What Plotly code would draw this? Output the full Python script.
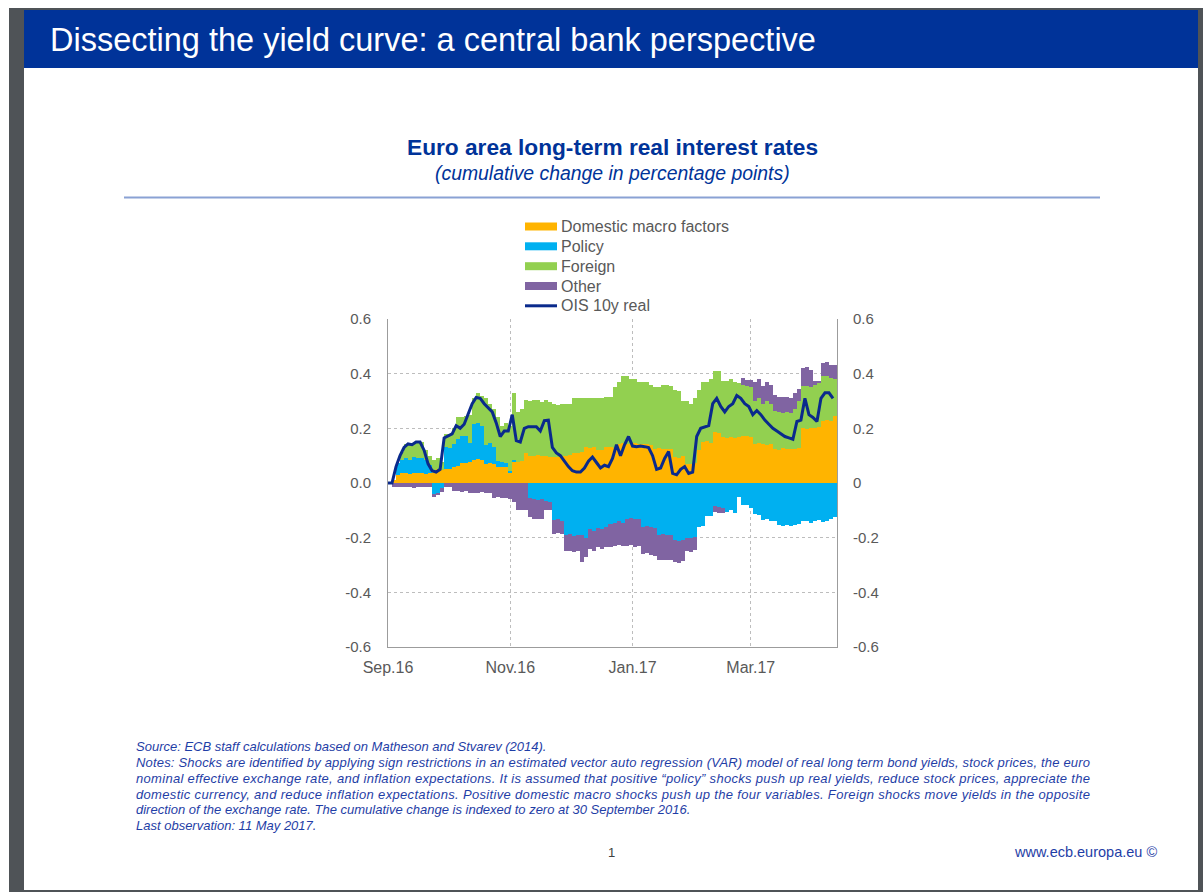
import plotly.graph_objects as go
import pandas as pd

# ---------------- data (every 2 calendar days from 30 Sep 2016 to 10 May 2017) ----------------
dates = pd.date_range("2016-09-30", periods=112, freq="2D")

domestic = [
    0, 0.01, 0.03, 0.035, 0.036, 0.034, 0.035, 0.037,
    0.035, 0.034, 0.036, 0.035, 0.05, 0.048, 0.052, 0.05,
    0.06, 0.062, 0.075, 0.072, 0.078, 0.085, 0.088, 0.083,
    0.07, 0.072, 0.068, 0.06, 0.058, 0.06, 0.035, 0.08,
    0.078, 0.082, 0.11, 0.1, 0.098, 0.102, 0.1, 0.097,
    0.095, 0.094, 0.096, 0.1, 0.1, 0.104, 0.11, 0.108,
    0.112, 0.13, 0.128, 0.13, 0.12, 0.122, 0.13, 0.132,
    0.128, 0.143, 0.145, 0.142, 0.143, 0.146, 0.141, 0.143,
    0.144, 0.14, 0.125, 0.127, 0.124, 0.126, 0.123, 0.095,
    0.093, 0.097, 0.07, 0.068, 0.072, 0.12, 0.15, 0.152,
    0.148, 0.185, 0.183, 0.167, 0.165, 0.169, 0.166, 0.17,
    0.172, 0.171, 0.168, 0.143, 0.145, 0.142, 0.14, 0.144,
    0.125, 0.122, 0.127, 0.124, 0.126, 0.123, 0.128, 0.2,
    0.198, 0.202, 0.2, 0.205, 0.228, 0.23, 0.226, 0.245,
]

policy = [
    0, 0, 0.045, 0.05, 0.055, 0.05, 0.06, 0.055,
    0.058, 0.05, 0.03, -0.04, -0.035, -0.02, 0.08, 0.078,
    0.082, 0.1, 0.098, 0.1, 0.07, 0.13, 0.13, 0.125,
    0.07, 0.075, 0.065, 0.02, 0.02, 0.015, 0.01, 0.005,
    0, 0, 0, -0.055, -0.06, -0.062, -0.06, -0.065,
    -0.07, -0.135, -0.13, -0.14, -0.19, -0.185, -0.195, -0.19,
    -0.19, -0.2, -0.17, -0.175, -0.165, -0.17, -0.16, -0.15,
    -0.145, -0.14, -0.148, -0.13, -0.128, -0.132, -0.13, -0.16,
    -0.158, -0.162, -0.165, -0.19, -0.188, -0.192, -0.19, -0.21,
    -0.212, -0.208, -0.2, -0.202, -0.198, -0.16, -0.158, -0.12,
    -0.12, -0.085, -0.088, -0.09, -0.105, -0.1, -0.108, -0.05,
    -0.08, -0.082, -0.09, -0.115, -0.118, -0.135, -0.132, -0.138,
    -0.14, -0.155, -0.158, -0.152, -0.156, -0.154, -0.15, -0.14,
    -0.138, -0.145, -0.14, -0.135, -0.142, -0.14, -0.13, -0.125,
]

foreign = [
    0, 0, 0, 0.03, 0.05, 0.055, 0.05, 0.06,
    0.057, 0.036, 0.034, 0.05, 0.04, 0.03, 0.048, 0.052,
    0.058, 0.078, 0.067, 0.073, 0.1, 0.095, 0.112, 0.112,
    0.17, 0.143, 0.137, 0.16, 0.132, 0.145, 0.165, 0.245,
    0.182, 0.188, 0.195, 0.2, 0.205, 0.2, 0.195, 0.205,
    0.2, 0.196, 0.19, 0.19, 0.19, 0.186, 0.2, 0.202,
    0.198, 0.18, 0.182, 0.18, 0.19, 0.188, 0.183, 0.181,
    0.222, 0.227, 0.245, 0.248, 0.237, 0.234, 0.229, 0.227,
    0.226, 0.22, 0.225, 0.223, 0.236, 0.234, 0.232, 0.245,
    0.242, 0.203, 0.23, 0.222, 0.238, 0.22, 0.22, 0.218,
    0.232, 0.225, 0.227, 0.208, 0.21, 0.211, 0.204, 0.195,
    0.188, 0.184, 0.182, 0.157, 0.165, 0.148, 0.16, 0.146,
    0.14, 0.138, 0.128, 0.136, 0.129, 0.147, 0.172, 0.155,
    0.157, 0.148, 0.16, 0.16, 0.162, 0.16, 0.159, 0.135,
]

other = [
    0, -0.015, -0.015, -0.016, -0.014, -0.015, -0.017, -0.015,
    -0.014, -0.015, -0.016, -0.01, -0.01, -0.012, -0.013, -0.013,
    -0.03, -0.028, -0.032, -0.03, -0.035, -0.035, -0.037, -0.034,
    -0.035, -0.036, -0.055, -0.053, -0.056, -0.055, -0.06, -0.07,
    -0.1, -0.1, -0.1, -0.07, -0.072, -0.068, -0.07, -0.035,
    -0.03, -0.05, -0.052, -0.048, -0.06, -0.062, -0.058, -0.06,
    -0.1, -0.07, -0.07, -0.072, -0.068, -0.07, -0.075, -0.085,
    -0.085, -0.088, -0.082, -0.1, -0.098, -0.102, -0.1, -0.1,
    -0.098, -0.1, -0.102, -0.09, -0.092, -0.088, -0.09, -0.08,
    -0.082, -0.078, -0.05, -0.052, -0.048, 0, 0, 0,
    0, -0.02, -0.02, -0.018, 0, 0, 0, 0,
    0.025, 0.022, 0.028, 0.07, 0.072, 0.066, 0.07, 0.068,
    0.058, 0.055, 0.06, 0.056, 0.055, 0.058, 0.045, 0.065,
    0.068, 0.062, 0.012, 0.01, 0.05, 0.052, 0.048, 0.05,
]

ois_10y_real = [
    0, 0, 0.06, 0.1, 0.13, 0.143, 0.14, 0.15,
    0.15, 0.12, 0.07, 0.045, 0.04, 0.05, 0.165, 0.173,
    0.18, 0.21, 0.2, 0.215, 0.25, 0.29, 0.313, 0.31,
    0.29, 0.276, 0.26, 0.22, 0.17, 0.19, 0.19, 0.25,
    0.155, 0.15, 0.2, 0.206, 0.206, 0.206, 0.19, 0.228,
    0.23, 0.13, 0.11, 0.1, 0.08, 0.06, 0.045, 0.04,
    0.04, 0.055, 0.08, 0.095, 0.075, 0.055, 0.065, 0.06,
    0.09, 0.14, 0.1, 0.14, 0.17, 0.135, 0.133, 0.135,
    0.133, 0.13, 0.1, 0.05, 0.055, 0.09, 0.115, 0.035,
    0.03, 0.05, 0.06, 0.035, 0.04, 0.17, 0.2, 0.205,
    0.21, 0.29, 0.31, 0.28, 0.26, 0.28, 0.29, 0.32,
    0.31, 0.29, 0.28, 0.25, 0.265, 0.25, 0.23, 0.215,
    0.2, 0.19, 0.18, 0.17, 0.165, 0.16, 0.225, 0.23,
    0.31, 0.25, 0.24, 0.225, 0.31, 0.33, 0.33, 0.31,
]

series_names = ["Domestic macro factors", "Policy", "Foreign", "Other"]
line_name = "OIS 10y real"
x_tick_dates = ["2016-09-30", "2016-11-30", "2017-01-30", "2017-03-30"]
x_tick_labels = ["Sep.16", "Nov.16", "Jan.17", "Mar.17"]
y_ticks = [-0.6, -0.4, -0.2, 0.0, 0.2, 0.4, 0.6]
y_labels_left = ["-0.6", "-0.4", "-0.2", "0.0", "0.2", "0.4", "0.6"]
y_labels_right = ["-0.6", "-0.4", "-0.2", "0", "0.2", "0.4", "0.6"]

# ---------------- styling ----------------
W, H = 1203, 892
PL, PR, PT, PB = 388, 837, 319, 647
FONT = "Liberation Sans, Arial, Helvetica, sans-serif"
ECB_BLUE = "#003399"
NOTE_BLUE = "#1f3ea6"
GREY_TXT = "#595959"
colors = ["#FFB400", "#00B0F0", "#92D050", "#8064A2"]
LINE_COL = "#0a2a8c"


def fx(x):
    return (x - PL) / (PR - PL)


def fy(y):
    return (PB - y) / (PB - PT)


fig = go.Figure()
DAY_MS = 86400000
for name, vals, col in zip(series_names, [domestic, policy, foreign, other], colors):
    fig.add_trace(go.Bar(x=dates, y=vals, name=name, marker=dict(color=col, line=dict(width=0)),
                         width=2 * DAY_MS, offset=0, showlegend=False))
fig.add_trace(go.Scatter(x=dates, y=ois_10y_real, name=line_name, mode="lines",
                         line=dict(color=LINE_COL, width=3), yaxis="y2", showlegend=False))

axis_common = dict(showgrid=True, gridcolor="#bdbdbd", griddash="dot", gridwidth=1,
                   showline=True, linecolor="#9c9c9c", linewidth=1, zeroline=False, ticks="")

fig.update_layout(
    width=W, height=H,
    margin=dict(l=PL, r=W - PR, t=PT, b=H - PB, pad=0),
    paper_bgcolor="white", plot_bgcolor="white",
    barmode="relative", bargap=0,
    font=dict(family=FONT),
    xaxis=dict(type="date", range=["2016-09-30", "2017-05-12"], tickvals=x_tick_dates,
               ticktext=x_tick_labels, ticklabelstandoff=6,
               tickfont=dict(family=FONT, size=16, color=GREY_TXT), **axis_common),
    yaxis=dict(range=[-0.6, 0.6], tickvals=y_ticks, ticktext=y_labels_left,
               ticklabelstandoff=13, tickfont=dict(family=FONT, size=15, color=GREY_TXT),
               **axis_common),
    yaxis2=dict(range=[-0.6, 0.6], tickvals=y_ticks, ticktext=y_labels_right, overlaying="y",
                side="right", showgrid=False, showline=True, linecolor="#9c9c9c", zeroline=False,
                ticks="", ticklabelstandoff=12, tickfont=dict(family=FONT, size=15, color=GREY_TXT)),
)

shapes = []
def rect(x0, y0, x1, y1, color):
    shapes.append(dict(type="rect", xref="paper", yref="paper", x0=fx(x0), x1=fx(x1),
                       y0=fy(y1), y1=fy(y0), fillcolor=color, line=dict(width=0), layer="above"))

# slide frame
rect(9, 8, 24, 892, "#4f5357")
rect(9, 8, 1203, 10, "#4f5357")
rect(1198, 8, 1203, 892, "#4f5357")
rect(9, 890, 1203, 892, "#4f5357")
rect(24, 10, 1198, 68, ECB_BLUE)
# rule under title
shapes.append(dict(type="line", xref="paper", yref="paper", x0=fx(124), x1=fx(1100),
                   y0=fy(197.5), y1=fy(197.5), line=dict(color="#8aa2d4", width=2)))
# legend swatches
leg_rows = [226.5, 246.3, 266.2, 286.0, 305.8]
for yy, col in zip(leg_rows[:4], colors):
    rect(525, yy - 4, 557, yy + 4, col)
shapes.append(dict(type="line", xref="paper", yref="paper", x0=fx(525), x1=fx(557),
                   y0=fy(leg_rows[4]), y1=fy(leg_rows[4]), line=dict(color=LINE_COL, width=3)))

annotations = []
def text(x, y, s, size, color, xanchor="left", bold=False, italic=False):
    if bold:
        s = "<b>" + s + "</b>"
    if italic:
        s = "<i>" + s + "</i>"
    annotations.append(dict(xref="paper", yref="paper", x=fx(x), y=fy(y), text=s, showarrow=False,
                            xanchor=xanchor, yanchor="middle", align=xanchor if xanchor != "center" else "center",
                            font=dict(family=FONT, size=size, color=color)))

text(48, 40, "Dissecting the yield curve: a central bank perspective", 32.5, "white")
text(612, 147, "Euro area long-term real interest rates", 22.7, ECB_BLUE, xanchor="center", bold=True)
text(612, 173, "(cumulative change in percentage points)", 19.4, ECB_BLUE, xanchor="center", italic=True)
for yy, nm in zip(leg_rows, series_names + [line_name]):
    text(559, yy, nm, 16, GREY_TXT)

notes = [
    "Source: ECB staff calculations based on Matheson and Stvarev (2014).",
    "Notes: Shocks are identified by applying sign restrictions in an estimated vector auto regression (VAR) model of real long term bond yields, stock prices, the euro",
    "nominal effective exchange rate, and inflation expectations. It is assumed that positive \u201cpolicy\u201d shocks push up real yields, reduce stock prices, appreciate the",
    "domestic currency, and reduce inflation expectations. Positive domestic macro shocks push up the four variables. Foreign shocks move yields in the opposite",
    "direction of the exchange rate. The cumulative change is indexed to zero at 30 September 2016.",
    "Last observation: 11 May 2017.",
]
for i, s in enumerate(notes):
    text(134, 746.7 + 15.8 * i, s, 13, NOTE_BLUE, italic=True)

text(611, 852, "1", 13, "#404040", xanchor="center")
text(1159, 852, "www.ecb.europa.eu \u00a9", 14.5, NOTE_BLUE, xanchor="right")

fig.update_layout(shapes=shapes, annotations=annotations)

# justify the three full-width note lines (as in the original paragraph)
post = """
document.body.style.margin='0';
document.body.style.overflow='hidden';
var gd = document.getElementById('{plot_id}');
var starts = ['Notes: Shocks', 'nominal effective', 'domestic currency'];
gd.querySelectorAll('text.annotation-text').forEach(function(t){
  var s = t.textContent;
  for (var k = 0; k < starts.length; k++) {
    if (s.indexOf(starts[k]) === 0) {
      t.setAttribute('textLength', '954');
      t.setAttribute('lengthAdjust', 'spacing');
    }
  }
});
"""

fig.write_html("out.html", config={"displayModeBar": False}, post_script=post)
